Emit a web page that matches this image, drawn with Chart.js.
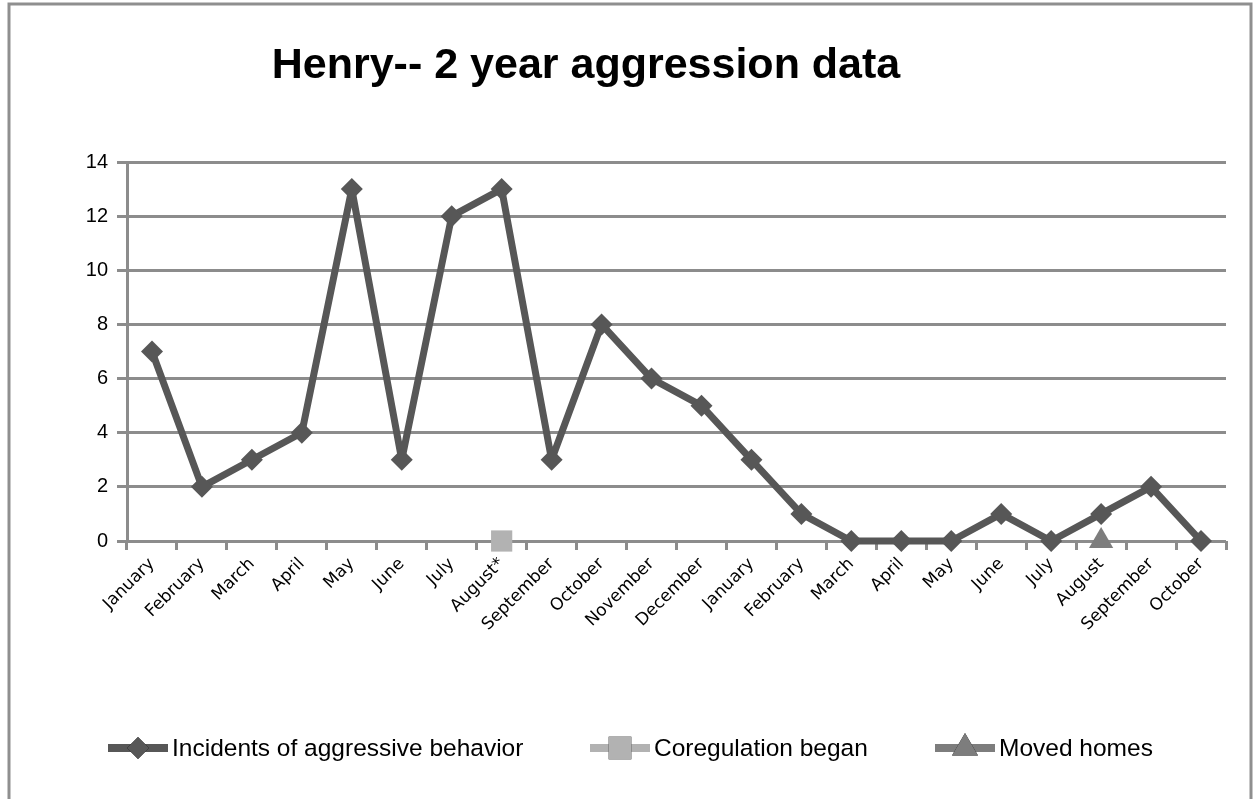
<!DOCTYPE html>
<html>
<head>
<meta charset="utf-8">
<script src="https://cdn.jsdelivr.net/npm/chart.js@4"></script>
<style>
  html, body { margin: 0; padding: 0; background: #fff; }
  #wrap { width: 1258px; height: 799px; }
</style>
</head>
<body>
<div id="wrap"><canvas id="henryChart" width="1258" height="799"></canvas></div>
<script>
// data
const months = ['January', 'February', 'March', 'April', 'May', 'June', 'July', 'August*',
  'September', 'October', 'November', 'December', 'January', 'February', 'March', 'April',
  'May', 'June', 'July', 'August', 'September', 'October'];
const incidents = [7, 2, 3, 4, 13, 3, 12, 13, 3, 8, 6, 5, 3, 1, 0, 0, 0, 1, 0, 1, 2, 0];
const coregulation = [null, null, null, null, null, null, null, 0, null, null, null, null, null, null, null, null, null, null, null, null, null, null];
const movedHomes = [null, null, null, null, null, null, null, null, null, null, null, null, null, null, null, null, null, null, null, 0, null, null];
const yTicks = [0, 2, 4, 6, 8, 10, 12, 14];

const gridGray = '#8c8c8c';
const lineGray = '#575757';

// frame, title and legend like the spreadsheet export
const decor = {
  id: 'decor',
  beforeDraw(chart) {
    const c = chart.ctx;
    c.save();
    c.fillStyle = '#fff';
    c.fillRect(0, 0, chart.width, chart.height);
    c.strokeStyle = '#8f8f8f';
    c.lineWidth = 3;
    c.strokeRect(9, 4, 1242, 820);
    c.restore();
  },
  afterDraw(chart) {
    const c = chart.ctx;
    c.save();
    // title, fitted to the width it has in the picture
    const title = 'Henry-- 2 year aggression data';
    c.font = 'bold 40px "Liberation Sans", Arial, sans-serif';
    const w = c.measureText(title).width;
    const size = 40 * 628 / w;
    c.font = 'bold ' + size.toFixed(1) + 'px "Liberation Sans", Arial, sans-serif';
    c.fillStyle = '#000';
    c.textAlign = 'center';
    c.textBaseline = 'alphabetic';
    c.fillText(title, 586, 78);

    // legend
    const items = [
      { x: 108, ds: chart.data.datasets[0], r: 11 },
      { x: 590, ds: chart.data.datasets[1], r: 16 },
      { x: 935, ds: chart.data.datasets[2], r: 15 }
    ];
    const ly = 748;
    c.font = '24.5px "Liberation Sans", Arial, sans-serif';
    c.textAlign = 'left';
    c.textBaseline = 'middle';
    items.forEach(it => {
      c.strokeStyle = it.ds.borderColor;
      c.lineWidth = 8;
      c.beginPath();
      c.moveTo(it.x, ly);
      c.lineTo(it.x + 60, ly);
      c.stroke();
      Chart.helpers.drawPoint(c, {
        pointStyle: it.ds.pointStyle,
        radius: it.r,
        borderWidth: 0
      }, it.x + 30, ly);
      c.fillStyle = it.ds.pointBackgroundColor;
      c.fill();
      c.fillStyle = '#000';
      c.fillText(it.ds.label, it.x + 64, ly + 1);
    });
    c.restore();
  }
};

new Chart(document.getElementById('henryChart'), {
  type: 'line',
  data: {
    labels: months,
    datasets: [{
      label: 'Incidents of aggressive behavior',
      data: incidents,
      borderColor: lineGray,
      borderWidth: 7,
      borderJoinStyle: 'round',
      pointStyle: 'rectRot',
      pointRadius: 11,
      pointBackgroundColor: lineGray,
      pointBorderWidth: 0,
      tension: 0,
      clip: false,
      order: 2
    }, {
      label: 'Coregulation began',
      data: coregulation,
      borderColor: '#b2b2b2',
      showLine: false,
      pointStyle: 'rect',
      pointRadius: 15,
      pointBackgroundColor: '#b2b2b2',
      pointBorderWidth: 0,
      clip: false,
      order: 1
    }, {
      label: 'Moved homes',
      data: movedHomes,
      borderColor: '#7d7d7d',
      showLine: false,
      pointStyle: 'triangle',
      pointRadius: 14,
      pointBackgroundColor: '#7d7d7d',
      pointBorderWidth: 0,
      clip: false,
      order: 1
    }]
  },
  options: {
    responsive: false,
    animation: false,
    layout: { padding: { top: 162, right: 32, left: 0, bottom: 0 } },
    plugins: {
      legend: { display: false },
      title: { display: false },
      tooltip: { enabled: false }
    },
    scales: {
      x: {
        offset: true,
        grid: { offset: true, drawOnChartArea: false, drawTicks: true, tickLength: 9, color: gridGray, lineWidth: 3 },
        border: { display: false },
        ticks: {
          color: '#000',
          font: { family: '"DejaVu Sans", Verdana, sans-serif', size: 17 },
          minRotation: 45,
          maxRotation: 45,
          autoSkip: false,
          padding: 4
        },
        afterFit(s) { s.height = 258; }
      },
      y: {
        min: 0,
        max: 14,
        afterBuildTicks(s) { s.ticks = yTicks.map(v => ({ value: v })); },
        grid: { color: gridGray, lineWidth: 3, tickLength: 10, drawTicks: true },
        border: { display: true, color: gridGray, width: 3 },
        ticks: {
          color: '#000',
          font: { family: '"Liberation Sans", Arial, sans-serif', size: 20 },
          padding: 9
        },
        afterFit(s) { s.width = 127; }
      }
    }
  },
  plugins: [decor]
});
</script>
</body>
</html>
